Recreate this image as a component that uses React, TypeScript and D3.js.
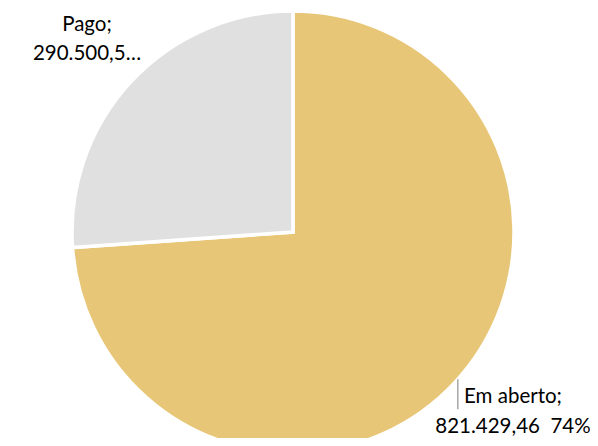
import { useMemo } from "react";
import * as d3 from "d3";

const categories = ["Em aberto", "Pago"];
const values = [821429.46, 290500.5];
const valueLabels = ["821.429,46", "290.500,5…"];
const colors = ["#E8C677", "#E0E0E0"];

const width = 598;
const height = 446;

export default function App() {
  const cx = 293;
  const cy = 232;
  const radius = 221;

  const arcs = useMemo(() => {
    const pie = d3
      .pie<number>()
      .sort(null)
      .value((d) => d);
    return pie(values);
  }, []);

  const arcGen = d3.arc<d3.PieArcDatum<number>>().innerRadius(0).outerRadius(radius);

  const total = d3.sum(values);
  const pct = d3.format(".0%");

  // leader line for the first slice, at the rim
  const leaderAngle = 2.3;
  const lx = cx + radius * Math.sin(leaderAngle);
  const ly = cy - radius * Math.cos(leaderAngle);

  const font = "Lato, 'Open Sans', sans-serif";
  const fs = 20.5;

  return (
    <div style={{ margin: -8 }}>
      <svg width={width} height={height} style={{ display: "block" }}>
        <rect width={width} height={height} fill="#fff" />
        <g transform={`translate(${cx},${cy})`}>
          {arcs.map((a, i) => (
            <path
              key={categories[i]}
              d={arcGen(a) ?? undefined}
              fill={colors[i]}
              stroke="#fff"
              strokeWidth={3.5}
              strokeLinejoin="miter"
            />
          ))}
        </g>

        {/* Em aberto label */}
        <line x1={lx} y1={ly} x2={lx} y2={ly + 30} stroke="#A6A6A6" strokeWidth={1.5} />
        <text
          x={513}
          y={403}
          textAnchor="middle"
          fontFamily={font}
          fontSize={fs}
          fill="#000"
          style={{ whiteSpace: "pre" }}
        >
          <tspan x={513} dy={0}>{`${categories[0]};`}</tspan>
          <tspan x={513} dy={30}>{`${valueLabels[0]}  ${pct(values[0] / total)}`}</tspan>
        </text>

        {/* Pago label */}
        <text x={87} y={31} textAnchor="middle" fontFamily={font} fontSize={fs} fill="#000">
          <tspan x={87} dy={0}>{`${categories[1]};`}</tspan>
          <tspan x={87} dy={29}>{valueLabels[1]}</tspan>
        </text>
      </svg>
    </div>
  );
}
